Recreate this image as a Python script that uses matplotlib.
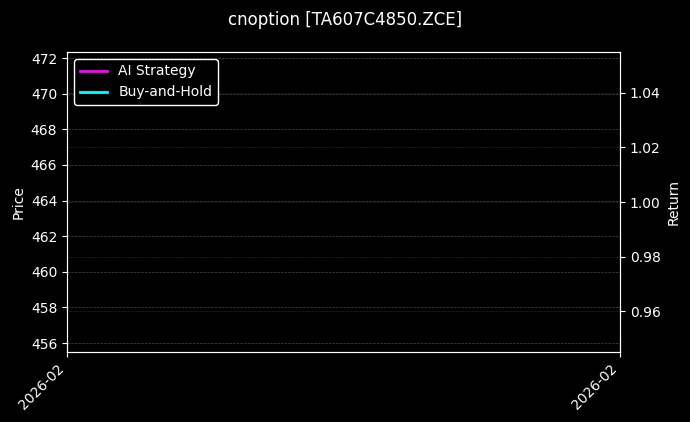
import matplotlib
matplotlib.use("Agg")
import matplotlib.pyplot as plt
import matplotlib.dates as mdates
import numpy as np
import pandas as pd

dates = pd.to_datetime(["2026-02-10"])
price = [463.9]
ai_return = [1.0]
bh_return = [1.0]
price_ylim = (455.5, 472.34)
return_ylim = (0.945, 1.055)
x_start = pd.Timestamp("2026-02-08")
x_end = pd.Timestamp("2026-02-12")

plt.style.use("dark_background")
fig = plt.figure(figsize=(6.9, 4.22), dpi=100, facecolor="black")
ax = fig.add_axes([67/690, 1-352/422, (620-67)/690, (352-52)/422])
ax.set_facecolor("black")
ax.plot(dates, price, color="#ff4444", alpha=0.3, linewidth=1)
ax.set_ylim(*price_ylim)
ax.set_yticks(np.arange(456, 473, 2))
ax.set_ylabel("Price", color="white")
ax.grid(True, axis="y", color="#666666", linestyle="--", linewidth=0.5, alpha=0.7)

ax2 = ax.twinx()
l1, = ax2.plot(dates, ai_return, color="#ff00ff", linewidth=2, label="AI Strategy")
l2, = ax2.plot(dates, bh_return, color="#00ffff", linewidth=2, label="Buy-and-Hold")
ax2.set_ylim(*return_ylim)
ax2.set_yticks([0.96, 0.98, 1.00, 1.02, 1.04])
ax2.yaxis.set_major_formatter(matplotlib.ticker.FormatStrFormatter("%.2f"))
ax2.set_ylabel("Return", color="white")
ax2.grid(True, axis="y", color="#666666", linestyle=":", linewidth=0.5, alpha=0.7)

ax.set_xlim(x_start, x_end)
ax.set_xticks([x_start, x_end])
ax.xaxis.set_major_formatter(mdates.DateFormatter("%Y-%m"))
for lbl in ax.get_xticklabels():
    lbl.set_rotation(45)
    lbl.set_ha("right")

for a in (ax, ax2):
    for s in a.spines.values():
        s.set_color("white")

leg = ax2.legend(handles=[l1, l2], loc="upper left", facecolor="black",
                 edgecolor="white", framealpha=1.0)
for t in leg.get_texts():
    t.set_color("white")

fig.suptitle("cnoption [TA607C4850.ZCE]", color="white", fontsize=12, y=0.975)
fig.savefig("out.png", dpi=100, facecolor="black")
